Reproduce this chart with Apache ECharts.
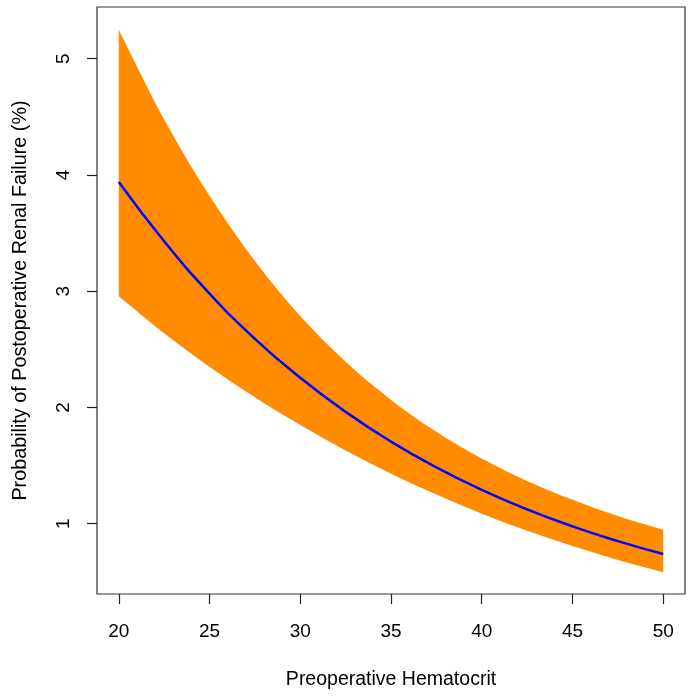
<!DOCTYPE html>
<html>
<head>
<meta charset="utf-8">
<script src="https://cdn.jsdelivr.net/npm/echarts@6/dist/echarts.min.js"></script>
<style>
html,body{margin:0;padding:0;background:#fff;}
#chart{width:694px;height:698px;}
</style>
</head>
<body>
<div id="chart"></div>
<script>
// Data
const hematocrit = [20, 22.5, 25, 27.5, 30, 32.5, 35, 37.5, 40, 42.5, 45, 47.5, 50];
const probability = [3.94, 3.43, 2.98, 2.59, 2.255, 1.962, 1.706, 1.484, 1.291, 1.123, 0.977, 0.85, 0.739];
const upperCI = [5.25, 4.478, 3.821, 3.260, 2.786, 2.392, 2.065, 1.791, 1.561, 1.368, 1.205, 1.066, 0.948];
const lowerCI = [2.957, 2.639, 2.351, 2.087, 1.848, 1.629, 1.430, 1.250, 1.086, 0.939, 0.807, 0.688, 0.583];
const xTicks = [20, 25, 30, 35, 40, 45, 50];
const yTicks = [1, 2, 3, 4, 5];
const xTitle = 'Preoperative Hematocrit';
const yTitle = 'Probability of Postoperative Renal Failure (%)';

const font = 'Liberation Sans, Arial, Helvetica, sans-serif';
const chart = echarts.init(document.getElementById('chart'), null, {renderer: 'canvas'});

const linePts = hematocrit.map((x, i) => [x, probability[i]]);

// Catmull-Rom through pixel points -> cubic bezier path commands
function splineCmds(pts) {
  let d = '';
  for (let i = 0; i < pts.length - 1; i++) {
    const p0 = pts[Math.max(i - 1, 0)], p1 = pts[i], p2 = pts[i + 1], p3 = pts[Math.min(i + 2, pts.length - 1)];
    const c1 = [p1[0] + (p2[0] - p0[0]) / 6, p1[1] + (p2[1] - p0[1]) / 6];
    const c2 = [p2[0] - (p3[0] - p1[0]) / 6, p2[1] - (p3[1] - p1[1]) / 6];
    d += ' C' + c1[0] + ' ' + c1[1] + ' ' + c2[0] + ' ' + c2[1] + ' ' + p2[0] + ' ' + p2[1];
  }
  return d;
}

function renderBand(params, api) {
  if (params.dataIndex !== 0) return null;
  const up = hematocrit.map((x, i) => api.coord([x, upperCI[i]]));
  const lo = hematocrit.map((x, i) => api.coord([x, lowerCI[i]])).reverse();
  let d = 'M' + up[0][0] + ' ' + up[0][1] + splineCmds(up);
  d += ' L' + lo[0][0] + ' ' + lo[0][1] + splineCmds(lo) + ' Z';
  return {
    type: 'path',
    shape: {pathData: d},
    style: {fill: '#FF8C00', stroke: null}
  };
}

chart.setOption({
  animation: false,
  backgroundColor: '#ffffff',
  grid: {
    left: 97, top: 7, width: 588, height: 587,
    show: true, borderColor: '#333333', borderWidth: 1.2, backgroundColor: 'transparent'
  },
  xAxis: {
    type: 'value',
    min: 18.8, max: 51.2,
    splitLine: {show: false},
    axisLine: {show: false},
    axisTick: {show: true, inside: false, length: 10, customValues: xTicks,
      lineStyle: {color: '#222', width: 1.2}},
    axisLabel: {show: true, customValues: xTicks, margin: 28, color: '#000',
      fontFamily: font, fontSize: 19},
    name: xTitle, nameLocation: 'middle', nameGap: 76,
    nameTextStyle: {color: '#000', fontFamily: font, fontSize: 19.5}
  },
  yAxis: {
    type: 'value',
    min: 0.395, max: 5.445,
    splitLine: {show: false},
    axisLine: {show: false},
    axisTick: {show: true, inside: false, length: 10, customValues: yTicks,
      lineStyle: {color: '#222', width: 1.2}},
    axisLabel: {show: true, customValues: yTicks, margin: 24, rotate: 90, color: '#000',
      fontFamily: font, fontSize: 19},
    name: yTitle, nameLocation: 'middle', nameGap: 66,
    nameTextStyle: {color: '#000', fontFamily: font, fontSize: 19.8}
  },
  series: [
    {
      name: 'band', type: 'custom', coordinateSystem: 'cartesian2d',
      data: [[hematocrit[0], upperCI[0]]], renderItem: renderBand, silent: true, z: 1
    },
    {
      name: 'fit', type: 'line', data: linePts, smooth: true,
      showSymbol: false, lineStyle: {color: '#0000FF', width: 2.5}, z: 5
    }
  ]
});
</script>
</body>
</html>
